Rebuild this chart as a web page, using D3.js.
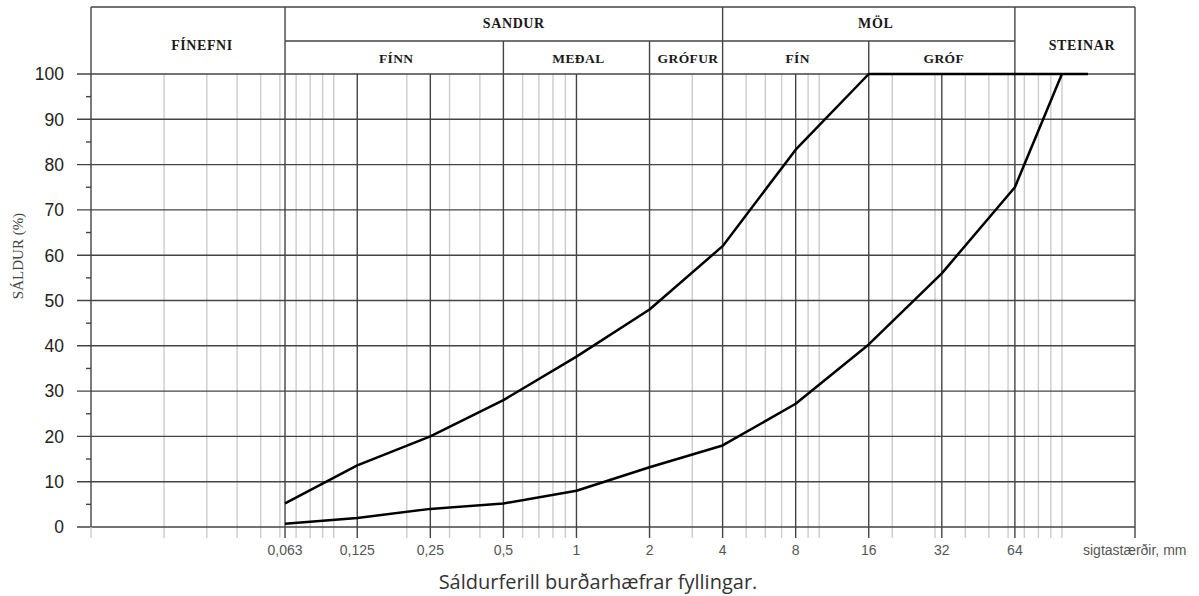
<!DOCTYPE html>
<html><head><meta charset="utf-8">
<script src="https://cdn.jsdelivr.net/npm/d3@7"></script>
<style>
html,body{margin:0;padding:0;background:#fff;}
svg{display:block;}
</style></head>
<body>
<svg id="chart" width="1199" height="596"></svg>
<script>
// ---- data ----
const upperSizes = [0.063, 0.125, 0.25, 0.5, 1, 2, 4, 8, 16, 128];
const upperPass  = [5.2, 13.6, 20, 28, 37.6, 48, 62, 83.3, 100, 100];
const lowerSizes = [0.063, 0.125, 0.25, 0.5, 1, 2, 4, 8, 16, 32, 64, 100];
const lowerPass  = [0.7, 2, 4, 5.2, 8, 13.2, 18, 27.2, 40.3, 56, 75, 100];
const xTickValues = [0.063, 0.125, 0.25, 0.5, 1, 2, 4, 8, 16, 32, 64];
const xTickLabels = ["0,063", "0,125", "0,25", "0,5", "1", "2", "4", "8", "16", "32", "64"];
const yTickValues = [0, 10, 20, 30, 40, 50, 60, 70, 80, 90, 100];
const yMinorTicks = [5, 15, 25, 35, 45, 55, 65, 75, 85, 95];
const topGroups = ["FÍNEFNI", "SANDUR", "MÖL", "STEINAR"];
const topBounds = [[0.01, 0.063], [0.063, 4], [4, 64], [64, 200]];
const subGroups = ["FÍNN", "MEÐAL", "GRÓFUR", "FÍN", "GRÓF"];
const subBounds = [[0.063, 0.5], [0.5, 2], [2, 4], [4, 16], [16, 64]];
const xDomain = [0.01, 200];
const xAxisTitle = "sigtastærðir, mm";
const yAxisTitle = "SÁLDUR (%)";
const caption = "Sáldurferill burðarhæfrar fyllingar.";

// ---- layout ----
const svg = d3.select("#chart");
const L = 91, R = 1135, T = 74, B = 527, HT = 7, HM = 41, BEXT = 538;
const x = d3.scaleLog().domain(xDomain).range([L, R]);
const y = d3.scaleLinear().domain([0, 100]).range([B, T]);
const dark = "#444", light = "#cccccc";

// minor log grid values 1..9 x decades, excluding majors
const minorVals = [];
for (let e = -2; e <= 2; e++) {
  for (let m = 1; m <= 9; m++) {
    const v = +(m * Math.pow(10, e)).toPrecision(6);
    if (v > xDomain[0] && v < xDomain[1] && !xTickValues.includes(v)) minorVals.push(v);
  }
}
const g = svg.append("g");
g.selectAll("line.minor").data(minorVals).join("line")
  .attr("x1", d => x(d)).attr("x2", d => x(d))
  .attr("y1", T).attr("y2", BEXT)
  .attr("stroke", light).attr("stroke-width", 1.4);

// horizontal grid
g.selectAll("line.hgrid").data(yTickValues).join("line")
  .attr("x1", 77).attr("x2", R)
  .attr("y1", d => y(d)).attr("y2", d => y(d))
  .attr("stroke", dark).attr("stroke-width", 1.4);
// minor y ticks
g.selectAll("line.ymin").data(yMinorTicks).join("line")
  .attr("x1", 86).attr("x2", L)
  .attr("y1", d => y(d)).attr("y2", d => y(d))
  .attr("stroke", dark).attr("stroke-width", 1.4);

// header divider sets
const topEdges = Array.from(new Set(topBounds.flat()));
const subEdges = subBounds.map(d => d[0]).filter(v => !topEdges.includes(v));
// major verticals
g.selectAll("line.major").data(xTickValues).join("line")
  .attr("x1", d => x(d)).attr("x2", d => x(d))
  .attr("y1", d => topEdges.includes(d) ? HT : (subEdges.includes(d) ? HM : T))
  .attr("y2", BEXT)
  .attr("stroke", dark).attr("stroke-width", 1.4);
// outer borders
g.append("line").attr("x1", L).attr("x2", L).attr("y1", HT).attr("y2", B).attr("stroke", dark).attr("stroke-width", 1.4);
g.append("line").attr("x1", L).attr("x2", L).attr("y1", B).attr("y2", BEXT).attr("stroke", light).attr("stroke-width", 1.4);
g.append("line").attr("x1", R).attr("x2", R).attr("y1", HT).attr("y2", BEXT).attr("stroke", dark).attr("stroke-width", 1.4);
g.append("line").attr("x1", L).attr("x2", R).attr("y1", HT).attr("y2", HT).attr("stroke", dark).attr("stroke-width", 1.4);
g.append("line").attr("x1", x(subBounds[0][0])).attr("x2", x(subBounds[subBounds.length-1][1]))
  .attr("y1", HM).attr("y2", HM).attr("stroke", dark).attr("stroke-width", 1.4);

// header labels
const hdrFont = "'Liberation Serif','Times New Roman',serif";
g.selectAll("text.top").data(topGroups).join("text")
  .attr("x", (d, i) => (x(topBounds[i][0]) + x(topBounds[i][1])) / 2 + (i === 0 ? 14 : (i === 1 ? 10 : 7)))
  .attr("y", (d, i) => (i === 0 || i === 3) ? 50 : 28)
  .attr("text-anchor", "middle")
  .attr("font-family", hdrFont).attr("font-weight", "bold").attr("font-size", 14)
  .attr("letter-spacing", 0.6).attr("fill", "#1a1a1a")
  .text(d => d);
g.selectAll("text.sub").data(subGroups).join("text")
  .attr("x", (d, i) => (x(subBounds[i][0]) + x(subBounds[i][1])) / 2 + 2)
  .attr("y", 63)
  .attr("text-anchor", "middle")
  .attr("font-family", hdrFont).attr("font-weight", "bold").attr("font-size", 13.5)
  .attr("letter-spacing", 0.4).attr("fill", "#1a1a1a")
  .text(d => d);

// y axis labels
const sans = "'Liberation Sans',Arial,sans-serif";
g.selectAll("text.ylab").data(yTickValues).join("text")
  .attr("x", 64).attr("y", d => y(d))
  .attr("dy", "0.36em").attr("text-anchor", "end")
  .attr("font-family", sans).attr("font-size", 17.5).attr("fill", "#222")
  .text(d => d);
// x axis labels
g.selectAll("text.xlab").data(xTickValues).join("text")
  .attr("x", d => x(d)).attr("y", 555)
  .attr("text-anchor", "middle")
  .attr("font-family", sans).attr("font-size", 14).attr("fill", "#555")
  .text((d, i) => xTickLabels[i]);
g.append("text").attr("x", 1083).attr("y", 555)
  .attr("font-family", sans).attr("font-size", 14).attr("fill", "#555")
  .text(xAxisTitle);
// y title
g.append("text").attr("transform", "translate(23,256) rotate(-90)")
  .attr("text-anchor", "middle")
  .attr("font-family", hdrFont).attr("font-size", 15).attr("fill", "#444")
  .text(yAxisTitle);
// caption
g.append("text").attr("x", 598).attr("y", 589).attr("text-anchor", "middle")
  .attr("font-family", "'Open Sans','Noto Sans',sans-serif").attr("font-size", 20).attr("fill", "#333")
  .text(caption);

// curves
const line = d3.line().x(d => x(d[0])).y(d => y(d[1]));
const upper = upperSizes.map((s, i) => [s, upperPass[i]]);
const lower = lowerSizes.map((s, i) => [s, lowerPass[i]]);
g.append("path").attr("d", line(upper)).attr("fill", "none").attr("stroke", "#000").attr("stroke-width", 2.5).attr("stroke-linejoin", "round");
g.append("path").attr("d", line(lower)).attr("fill", "none").attr("stroke", "#000").attr("stroke-width", 2.5).attr("stroke-linejoin", "round");
</script>
</body></html>
